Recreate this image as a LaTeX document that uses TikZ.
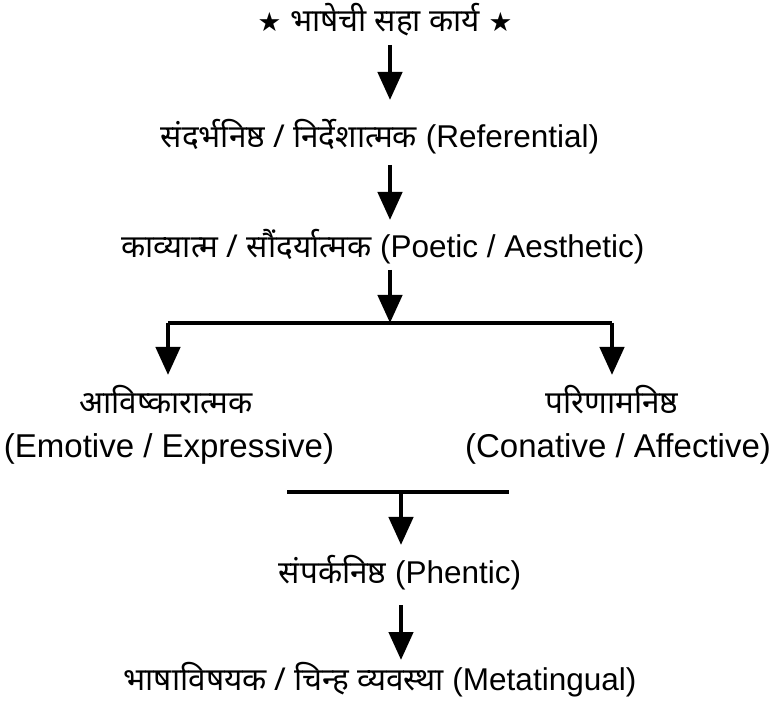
\documentclass[tikz,border=0pt]{standalone}
\usepackage{fontspec}
\setmainfont{Liberation Sans}
\newfontfamily\dev[Script=Devanagari]{Noto Sans}
\newfontfamily\sym{DejaVu Sans}
\usetikzlibrary{arrows.meta}
\begin{document}
\begin{tikzpicture}[x=1pt,y=-1pt,
  lbl/.style={anchor=base,inner sep=0pt,outer sep=0pt,text height=22pt,text depth=8pt,font=\fontsize{31.5}{36}\selectfont},
  big/.style={font=\fontsize{33}{38}\selectfont},
  arr/.style={line width=4.5pt,-{Triangle[width=24pt,length=28pt]}},
  barline/.style={line width=4.5pt}]
\useasboundingbox (0,0) rectangle (780,703);
\fill[white] (0,0) rectangle (780,703);
% nodes
\node[lbl] (title) at (385,32) {{\sym\fontsize{26.5}{26}\selectfont ★} {\dev भाषेची सहा कार्य} {\sym\fontsize{26.5}{26}\selectfont ★}};
\node[lbl] (ref) at (380,148) {{\dev संदर्भनिष्ठ / निर्देशात्मक} (Referential)};
\node[lbl] (poe) at (383,258) {{\dev काव्यात्म / सौंदर्यात्मक} (Poetic / Aesthetic)};
\node[lbl] (emoD) at (166,414) {\dev आविष्कारात्मक};
\node[lbl,big] (emoL) at (169,458) {(Emotive / Expressive)};
\node[lbl] (conD) at (612,414) {\dev परिणामनिष्ठ};
\node[lbl,big] (conL) at (618,458) {(Conative / Affective)};
\node[lbl] (phen) at (400,583) {{\dev संपर्कनिष्ठ} (Phentic)};
\node[lbl] (meta) at (380,690) {{\dev भाषाविषयक / चिन्ह व्यवस्था} (Metatingual)};
% bar coordinates
\coordinate (b1m) at (390,323);
\coordinate (b1l) at (168,323);
\coordinate (b1r) at (612,323);
\coordinate (b2l) at (287,492);
\coordinate (b2r) at (509,492);
\coordinate (b2m) at (401,492);
% connectors
\draw[arr,shorten <=5pt,shorten >=26pt] (title.south -| b1m) -- (ref.north -| b1m);
\draw[arr,shorten <=9pt,shorten >=16pt] (ref.south -| b1m) -- (poe.north -| b1m);
\draw[arr,shorten <=4pt] (poe.south -| b1m) -- (b1m);
\draw[barline] (b1l) -- (b1r);
\draw[arr,shorten >=17pt] (b1l) -- (b1l |- emoD.north);
\draw[arr,shorten >=17pt] (b1r) -- (b1r |- conD.north);
\draw[barline] (b2l) -- (b2r);
\draw[arr,shorten >=16pt] (b2m) -- (b2m |- phen.north);
\draw[arr,shorten <=14pt,shorten >=8pt] (phen.south -| b2m) -- (meta.north -| b2m);
\end{tikzpicture}
\end{document}
